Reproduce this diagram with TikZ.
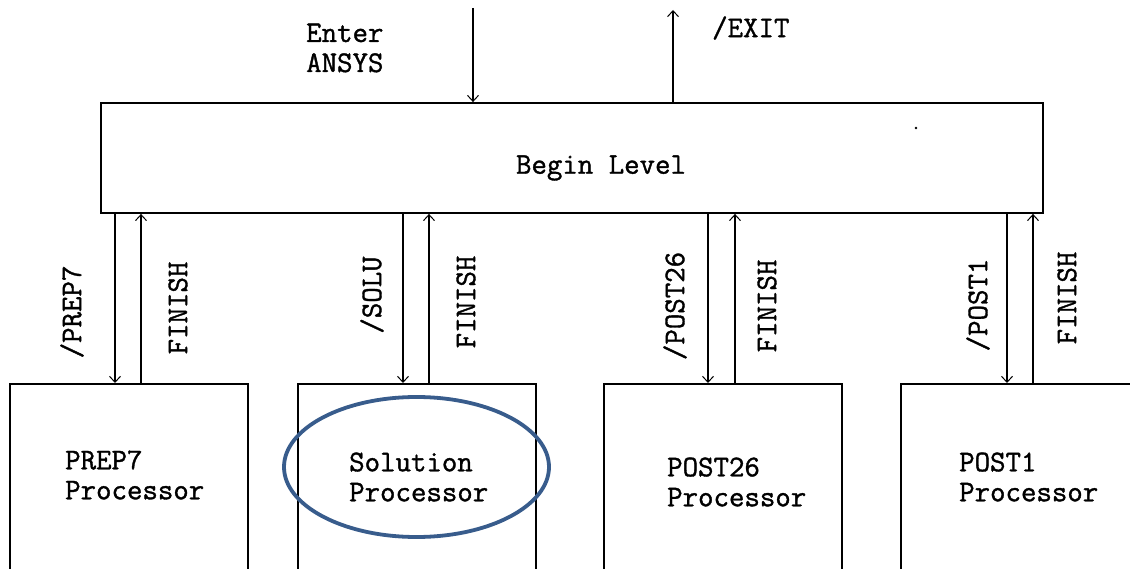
\documentclass[tikz,border=0pt]{standalone}
\usepackage{fontspec}
\newfontfamily\diafont{Latin Modern Mono}[FakeBold=1.2]
\usetikzlibrary{arrows.meta,calc}
\definecolor{ringblue}{RGB}{56,92,140}
\begin{document}
\begin{tikzpicture}[x=1pt,y=-1pt,
  every node/.style={font=\diafont\fontsize{30}{30}\selectfont, inner sep=0pt},
  boxline/.style={draw=black, line width=1.8pt},
  arr/.style={draw=black, line width=1.3pt, -{Straight Barb[length=6pt,width=11pt,line width=1pt]}},
  vlabel/.style={rotate=90},
  txt/.style={align=left, anchor=west}]
\clip (0,0) rectangle (1130,569);
\fill[white] (0,0) rectangle (1130,569);
% boxes
\node[boxline, minimum width=942pt, minimum height=110pt] (begin) at (572,158) {};
\node at (601,168) (begintxt) {Begin Level};
\node[boxline, minimum width=238pt, minimum height=260pt, anchor=north] (prep) at (129,383) {};
\node[boxline, minimum width=238pt, minimum height=260pt, anchor=north] (solu) at (417,383) {};
\node[boxline, minimum width=238pt, minimum height=260pt, anchor=north] (p26) at (723,383) {};
\node[boxline, minimum width=238pt, minimum height=260pt, anchor=north] (p1) at (1020,383) {};
% box texts
\node[txt] (preptxt) at (65,475) {PREP7\\Processor};
\node[txt] (solutxt) at (349,477) {Solution\\Processor};
\node[txt] (p26txt) at (667,482) {POST26\\Processor};
\node[txt] (p1txt) at (959,477) {POST1\\Processor};
% highlight ellipse
\draw[ringblue, line width=3.8pt] (416.5,467) ellipse [x radius=132.5pt, y radius=70pt];
% top arrows
\coordinate (enterstart) at (473,8);
\coordinate (exitend) at (673,10);
\draw[arr] (enterstart) -- (begin.north -| enterstart);
\draw[arr] (begin.north -| exitend) -- (exitend);
\node[txt] (entertxt) at (306,48) {Enter\\ANSYS};
\node[txt] (exittxt) at (712,28) {/EXIT};
% vertical connectors
\coordinate (d1) at (115,0); \coordinate (u1) at (141,0);
\coordinate (d2) at (403,0); \coordinate (u2) at (429,0);
\coordinate (d3) at (708,0); \coordinate (u3) at (735,0);
\coordinate (d4) at (1007,0); \coordinate (u4) at (1033,0);
\draw[arr] (begin.south -| d1) -- (prep.north -| d1);
\draw[arr] (prep.north -| u1) -- (begin.south -| u1);
\draw[arr] (begin.south -| d2) -- (solu.north -| d2);
\draw[arr] (solu.north -| u2) -- (begin.south -| u2);
\draw[arr] (begin.south -| d3) -- (p26.north -| d3);
\draw[arr] (p26.north -| u3) -- (begin.south -| u3);
\draw[arr] (begin.south -| d4) -- (p1.north -| d4);
\draw[arr] (p1.north -| u4) -- (begin.south -| u4);
% rotated labels
\node[vlabel] (l1) at (72,312) {/PREP7};
\node[vlabel] (l2) at (178,308) {FINISH};
\node[vlabel] (l3) at (372,295) {/SOLU};
\node[vlabel] (l4) at (466,302) {FINISH};
\node[vlabel] (l5) at (675,306) {/POST26};
\node[vlabel] (l6) at (767,306) {FINISH};
\node[vlabel] (l7) at (978,305) {/POST1};
\node[vlabel] (l8) at (1067,298) {FINISH};
% stray dot
\fill[black] (916,128) circle (1.3pt);
\end{tikzpicture}
\end{document}
